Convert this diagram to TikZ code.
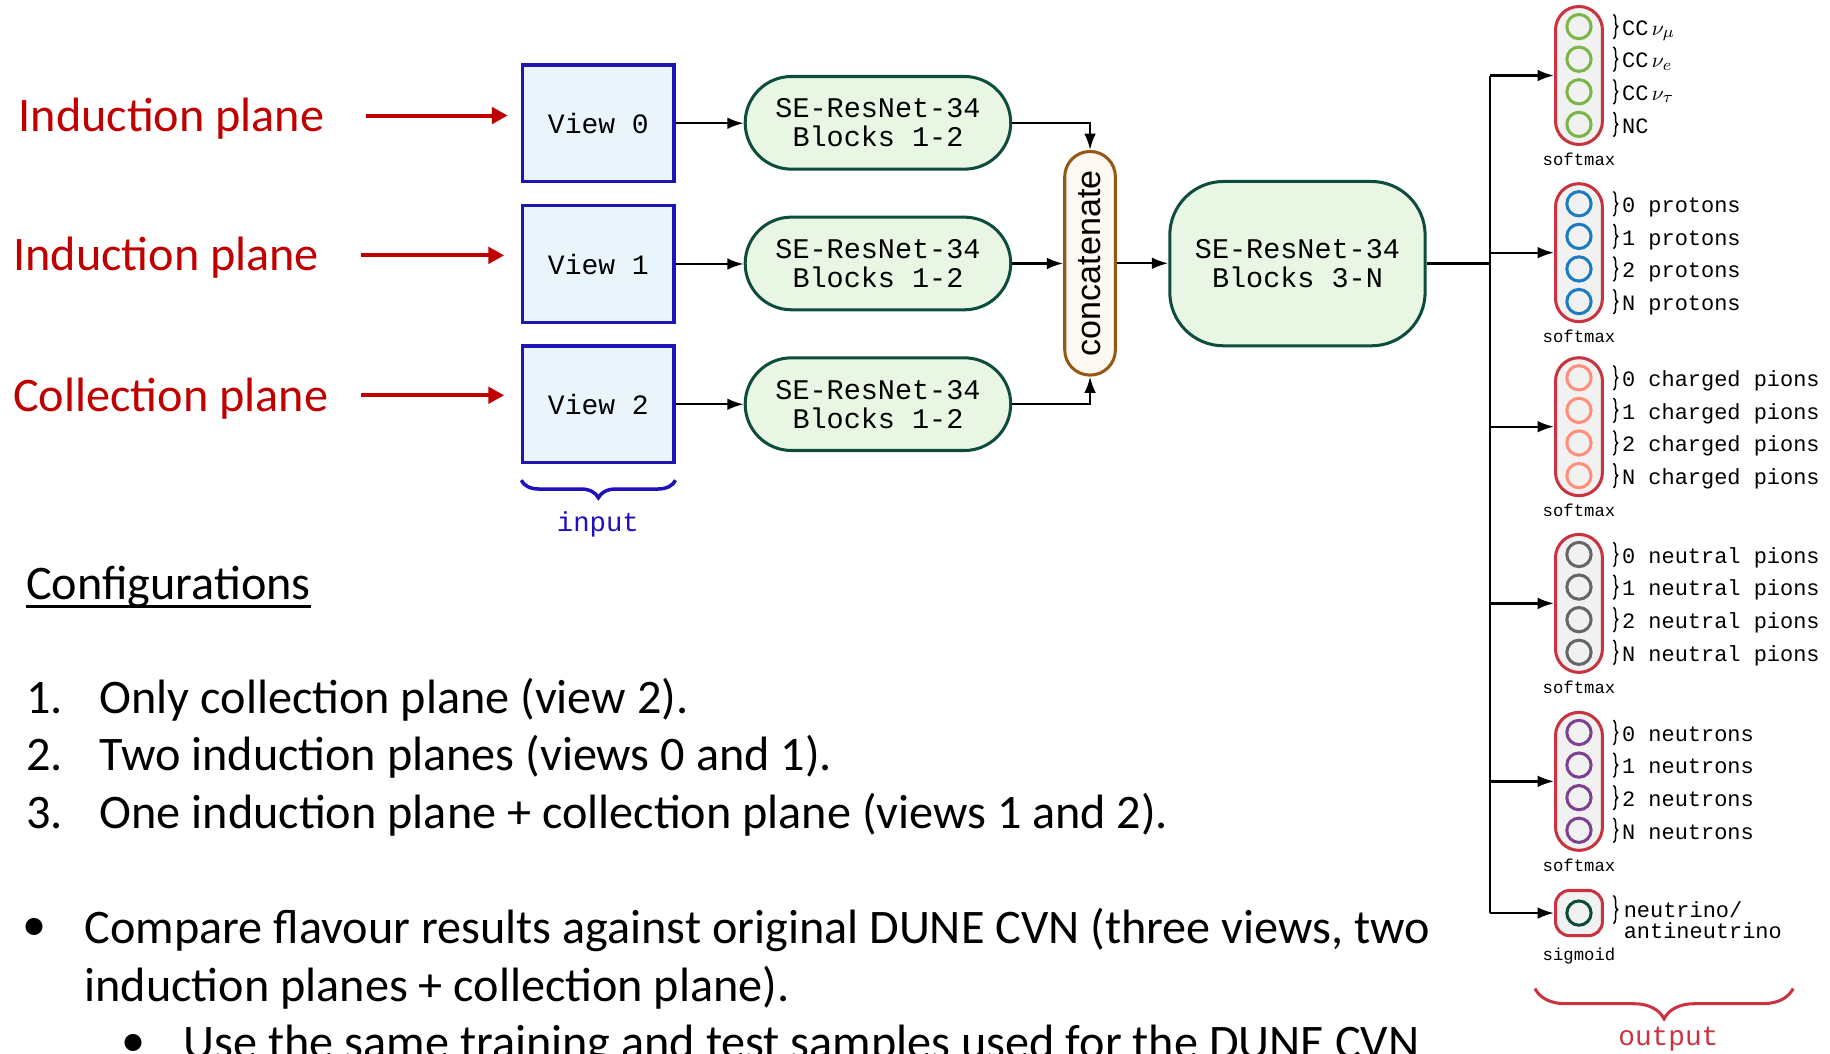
\documentclass[tikz,border=0pt]{standalone}
\usepackage{fontspec}
\setmainfont{Carlito}
\newfontfamily\monof{Liberation Mono}
\newfontfamily\sansf{Liberation Sans}
\usetikzlibrary{arrows.meta,decorations.pathreplacing,calc}

\definecolor{darkred}{HTML}{C00000}
\definecolor{viewblue}{HTML}{1F14B4}
\definecolor{viewfill}{HTML}{EAF5FB}
\definecolor{segreen}{HTML}{0E4D3E}
\definecolor{sefill}{HTML}{EAF6E4}
\definecolor{brownc}{HTML}{955814}
\definecolor{catfill}{HTML}{FEF8F2}
\definecolor{capred}{HTML}{C9323F}
\definecolor{capfill}{HTML}{F1F1F1}
\definecolor{cgreen}{HTML}{7AB648}
\definecolor{cblue}{HTML}{1B7CC0}
\definecolor{csalmon}{HTML}{FF8E7A}
\definecolor{cgray}{HTML}{666666}
\definecolor{cpurple}{HTML}{7D4190}
\definecolor{cdkgreen}{HTML}{0B4A3A}
\definecolor{inblue}{HTML}{1E10BE}
\definecolor{outred}{HTML}{CC3340}

\tikzset{
  body/.style={font=\fontsize{20.65pt}{24pt}\selectfont, inner sep=0pt, anchor=base west},
  redlab/.style={body, text=darkred},
  redarr/.style={draw=darkred, line width=1.7pt, -{Triangle[length=6.8pt,width=7pt]}},
  arr/.style={draw=black, line width=1pt, -{Latex[length=7pt,width=5pt]}},
  plainline/.style={draw=black, line width=1pt},
  viewbox/.style={draw=viewblue, fill=viewfill, line width=1.4pt, minimum width=64.7pt,
    minimum height=50pt, inner sep=0pt, font=\fontsize{12pt}{12.4pt}\selectfont\monof},
  sebox/.style={draw=segreen, fill=sefill, line width=1.3pt, rounded corners=19.8pt,
    minimum width=113.75pt, minimum height=39.7pt, inner sep=0pt, align=center,
    font=\fontsize{12.2pt}{12.4pt}\selectfont\monof},
  catbox/.style={draw=brownc, fill=catfill, line width=1.3pt, rounded corners=10.8pt,
    minimum width=21.7pt, minimum height=95.8pt, inner sep=0pt,
    font=\fontsize{14.6pt}{15pt}\selectfont\sansf},
  bigbox/.style={draw=segreen, fill=sefill, line width=1.3pt, rounded corners=23pt,
    minimum width=109.4pt, minimum height=70.4pt, inner sep=0pt, align=center,
    font=\fontsize{12.2pt}{12.4pt}\selectfont\monof},
  capsule/.style={draw=capred, fill=capfill, line width=1.3pt, rounded corners=10pt,
    minimum width=20.1pt, minimum height=59.1pt, inner sep=0pt},
  capsmall/.style={capsule, rounded corners=6pt, minimum height=19.35pt},
  circ/.style={circle, draw=#1, line width=1.3pt, minimum size=10.4pt, inner sep=0pt},
  lab/.style={font=\fontsize{9.4pt}{9.3pt}\selectfont\monof, inner sep=0pt, anchor=base west},
  smalltxt/.style={font=\fontsize{7.4pt}{8pt}\selectfont\monof, inner sep=0pt, anchor=base},
  smallbrace/.style={draw=black, decorate, decoration={brace, amplitude=1.8pt, aspect=0.5}, line width=0.65pt},
}

\begin{document}
\begin{tikzpicture}[x=0.5pt,y=-0.5pt]
\useasboundingbox (0,0) rectangle (1568,903);
\clip (0,0) rectangle (1568,903);

% left labels
\node[redlab] (ip0) at (15.5,112.8) {Induction plane};
\node[redlab] (ip1) at (11,232.2) {Induction plane};
\node[redlab] (cp2) at (11,352.7) {Collection plane};

% view boxes
\node[viewbox] (v0) at (512.7,105.6) {View 0};
\node[viewbox] (v1) at (512.7,226.2) {View 1};
\node[viewbox] (v2) at (512.7,346.4) {View 2};

% red arrows
\draw[redarr] ($(v0.west)+(-133.1,-6.6)$) -- ($(v0.west)+(-11.6,-6.6)$);
\draw[redarr] ($(v1.west)+(-137.1,-7.4)$) -- ($(v1.west)+(-14.6,-7.4)$);
\draw[redarr] ($(v2.west)+(-137.1,-7.7)$) -- ($(v2.west)+(-14.6,-7.7)$);

% SE blocks
\node[sebox] (se0) at (752.25,105.25) {SE-ResNet-34\\Blocks 1-2};
\node[sebox] (se1) at (752.25,225.75) {SE-ResNet-34\\Blocks 1-2};
\node[sebox] (se2) at (752.25,346.3) {SE-ResNet-34\\Blocks 1-2};

\draw[arr] (v0.east) -- (v0.east -| se0.west);
\draw[arr] (v1.east) -- (v1.east -| se1.west);
\draw[arr] (v2.east) -- (v2.east -| se2.west);

% concatenate
\node[catbox] (cc) at (934,225.6) {\rotatebox{90}{concatenate}};
\draw[arr] (se0.east) -| (cc.north);
\draw[arr] (se2.east) -| (cc.south);
\draw[arr] (se1.east) -- (se1.east -| cc.west);

% big block
\node[bigbox] (big) at (1111.7,225.9) {SE-ResNet-34\\Blocks 3-N};
\draw[arr] (cc.east) -- (cc.east -| big.west);

% input brace
\draw[draw=inblue, line width=1.5pt, decorate, decoration={brace, amplitude=7.5pt}]
  (578.8,411.5) -- (446.6,411.5);
\node[font=\fontsize{11.7pt}{12pt}\selectfont\monof, text=inblue, inner sep=0pt, anchor=base] (inp) at (512.3,455.5) {input};

% output groups
\foreach \g/\cy/\col in {1/64.7/cgreen, 2/216.5/cblue, 3/365.6/csalmon, 4/517/cgray, 5/669.5/cpurple} {
  \node[capsule] (g\g) at (1352.9,\cy) {};
  \foreach \k/\dy in {1/-41.9, 2/-13.95, 3/13.95, 4/41.9} {
    \node[circ=\col] (c\g\k) at ($(g\g.center)+(0,\dy)$) {};
    \draw[smallbrace] ([shift={(29.5,-10.5)}]c\g\k.center) -- ([shift={(29.5,10.5)}]c\g\k.center);
  }
  \node[smalltxt] (sm\g) at ($(g\g.center)+(0,77.2)$) {softmax};
}
\node[capsmall] (g6) at (1352.9,782.35) {};
\node[circ=cdkgreen] (c61) at (g6.center) {};
\draw[smallbrace] ([shift={(29.5,-15)}]c61.center) -- ([shift={(29.5,9)}]c61.center);
\node[smalltxt] (sm6) at ($(g6.center)+(0,41)$) {sigmoid};

% labels
\node[lab] (t11) at ([shift={(36.6,7.5)}]c11.center) {CC\kern1.5pt$\nu_\mu$};
\node[lab] (t12) at ([shift={(36.6,7.5)}]c12.center) {CC\kern1.5pt$\nu_e$};
\node[lab] (t13) at ([shift={(36.6,7.5)}]c13.center) {CC\kern1.5pt$\nu_\tau$};
\node[lab] (t14) at ([shift={(36.6,7.5)}]c14.center) {NC};
\foreach \g/\suf in {2/protons, 3/charged pions, 4/neutral pions, 5/neutrons} {
  \foreach \k/\n in {1/0, 2/1, 3/2, 4/N} {
    \node[lab] (t\g\k) at ([shift={(36.6,7.5)}]c\g\k.center) {\n\ \suf};
  }
}
\node[lab] (t61) at ([shift={(38,3.4)}]c61.center) {neutrino/};
\node[lab] (t62) at ([shift={(38,22)}]c61.center) {antineutrino};

% trunk and branches
\coordinate (tk) at (1276.7,225.6);
\draw[plainline] (big.east) -- (big.east -| tk);
\draw[plainline] (tk |- g1.west) -- (tk |- g6.west);
\foreach \g in {1,...,6} {
  \draw[arr] (tk |- g\g.west) -- (g\g.west);
}

% output brace
\draw[draw=outred, line width=1.3pt, decorate, decoration={brace, amplitude=13pt}]
  (1536.4,847) -- (1315.2,847);
\node[font=\fontsize{11.9pt}{12pt}\selectfont\monof, text=outred, inner sep=0pt, anchor=base] (outp) at (1429.5,895.4) {output};

% text section
\node[body] (conf) at (22,514) {Configurations};
\draw[line width=1.15pt] ([yshift=-2.9pt]conf.base west) -- ([yshift=-2.9pt]conf.base east);

\node[body] (n1) at (22,611) {1.};
\node[body] (s1) at (85,611) {Only collection plane (view 2).};
\node[body] (n2) at (22,660.5) {2.};
\node[body] (s2) at (85,660.5) {Two induction planes (views 0 and 1).};
\node[body] (n3) at (22,710) {3.};
\node[body] (s3) at (85,710) {One induction plane + collection plane (views 1 and 2).};

\node[body, anchor=base] (b1) at (29.3,806) {•};
\node[body] (l1) at (72,808) {Compare flavour results against original DUNE CVN (three views, two};
\node[body] (l2) at (72,858) {induction planes + collection plane).};
\node[body, anchor=base] (b2) at (114.3,905) {•};
\node[body] (l3) at (157,907) {Use the same training and test samples used for the DUNE CVN};
\end{tikzpicture}
\end{document}
